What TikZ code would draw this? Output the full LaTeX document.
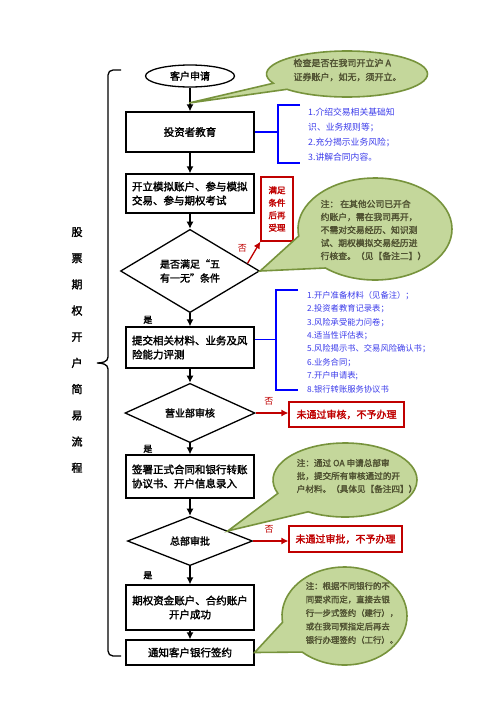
\documentclass[tikz,border=0pt]{standalone}
\usepackage{fontspec}
\setmainfont{Noto Sans CJK SC}[AutoFakeBold=2]
\usetikzlibrary{shapes.geometric}
\usetikzlibrary{shapes.callouts}
\usetikzlibrary{arrows.meta}
\usetikzlibrary{calc}

\definecolor{nored}{RGB}{192,0,0}
\definecolor{listblue}{RGB}{0,0,255}
\definecolor{listtext}{RGB}{60,60,235}
\definecolor{notefill}{RGB}{196,215,155}
\definecolor{noteline}{RGB}{119,147,60}
\definecolor{notetext}{RGB}{80,82,50}

\begin{document}
\begin{tikzpicture}[x=1pt,y=-1pt,
  stepbox/.style={draw,line width=1.3pt,minimum width=128pt,inner sep=0pt,font=\fontsize{10.5}{14}\selectfont\bfseries},
  judge/.style={draw,diamond,line width=1.3pt,inner sep=0pt,align=center,font=\fontsize{10}{14}\selectfont\bfseries},
  nobox/.style={draw=nored,text=nored,line width=1.2pt,inner sep=0pt,font=\fontsize{10}{12}\selectfont\bfseries},
  note/.style={ellipse callout,fill=notefill,draw=noteline,line width=1.6pt,inner sep=0pt},
  notetxt/.style={text=notetext,align=left,inner sep=0pt},
  bluelist/.style={text=listtext,align=left,anchor=west,inner sep=0pt},
  go/.style={-{Latex[length=7pt,width=7pt]},line width=1.3pt},
  nogo/.style={go,draw=nored},
  yes/.style={left=37pt,inner sep=0pt,font=\fontsize{9}{10}\selectfont\bfseries},
  nolbl/.style={text=nored,inner sep=0pt,font=\fontsize{9}{10}\selectfont}]

  \path[use as bounding box,fill=white] (0,0) rectangle (500,707);

  %% main column
  \node[ellipse,draw,line width=1.3pt,minimum width=89pt,minimum height=22pt,inner sep=0pt,font=\fontsize{10}{12}\selectfont\bfseries] (apply) at (190,76) {客户申请};
  \node[stepbox,minimum height=40pt] (edu) at (190,132) {投资者教育};
  \node[stepbox,minimum height=39pt,text width=116pt,align=left] (sim) at (190,193.5) {开立模拟账户、参与模拟\\交易、参与期权考试};
  \node[judge,minimum width=139pt,minimum height=67pt] (five) at (190,271) {是否满足“五\\有一无”条件};
  \node[stepbox,minimum height=41pt,text width=116pt,align=left] (submit) at (190,347.5) {提交相关材料、业务及风\\险能力评测};
  \node[judge,minimum width=130pt,minimum height=45pt] (shop) at (190,413) {营业部审核};
  \node[stepbox,minimum height=43pt,text width=116pt,align=left] (sign) at (190,476.5) {签署正式合同和银行转账\\协议书、开户信息录入};
  \node[judge,minimum width=125pt,minimum height=44pt] (hq) at (190,541) {总部审批};
  \node[stepbox,minimum height=45pt,align=center] (open) at (190,607.5) {期权资金账户、合约账户\\开户成功};
  \node[stepbox,minimum height=25pt] (notify) at (190,652.5) {通知客户银行签约};

  %% refusals
  \node[nobox,minimum width=32pt,minimum height=64pt,align=center,font=\fontsize{8.5}{12.5}\selectfont\bfseries] (meet) at (277,209) {满足\\条件\\后再\\受理};
  \node[nobox,minimum width=115pt,minimum height=25pt] (rej1) at (346.5,414.5) {未通过审核，不予办理};
  \node[nobox,minimum width=113pt,minimum height=26pt] (rej2) at (345.5,539) {未通过审批，不予办理};

  \draw[go] (apply) -- (edu);
  \draw[go] (edu) -- (sim);
  \draw[go] (sim) -- (five);
  \draw[go] (five) -- node[yes] {是} (submit);
  \draw[go] (submit) -- (shop);
  \draw[go] (shop) -- node[yes] {是} (sign);
  \draw[go] (sign) -- (hq);
  \draw[go] (hq) -- node[yes] {是} (open);
  \draw[go] (open) -- (notify);

  \draw[nogo] ($(five.east)!0.18!(five.north)$) -- node[nolbl,pos=0.7,left=9pt] {否} (meet.south west);
  \draw[nogo] (shop.east) -- node[nolbl,pos=0.4,above=7pt] {否} (shop.east -| rej1.west);
  \draw[nogo] (hq.east) -- node[nolbl,pos=0.45,above=7pt] {否} (hq.east -| rej2.west);

  %% blue lists
  \draw[listblue,line width=1.3pt] (edu.east) -- ++(24,0) (300,105) -| (278,163) -- (300,163);
  \node[bluelist,font=\fontsize{8.8}{15}\selectfont] (list1) at (308,134.5) {1.介绍交易相关基础知\\识、业务规则等；\\2.充分揭示业务风险；\\3.讲解合同内容。};
  \draw[listblue,line width=1.3pt] ([yshift=8pt]submit.east) -- ++(22,0) (298,290) -| (276,390) -- (298,390);
  \node[bluelist,font=\fontsize{8.3}{13.4}\selectfont] (list2) at (307,342) {1.开户准备材料（见备注）；\\2.投资者教育记录表；\\3.风险承受能力问卷；\\4.适当性评估表；\\5.风险揭示书、交易风险确认书；\\6.业务合同；\\7.开户申请表;\\8.银行转账服务协议书};

  %% green notes
  \coordinate (tip1) at (189,103);
  \node[note,minimum width=161pt,minimum height=46pt,callout pointer arc=18,callout absolute pointer={(tip1)}] (note1) at (347,74) {};
  \node[notetxt,font=\fontsize{9}{14}\selectfont\bfseries] (note1text) at (347.5,70) {检查是否在我司开立沪 A\\证券账户，如无，须开立。};
  \node[note,minimum width=154pt,minimum height=102pt,callout pointer arc=42,callout absolute pointer={(five.east)}] (note2) at (375,229) {};
  \node[notetxt,font=\fontsize{8.8}{13}\selectfont\bfseries] (note2text) at (373.5,230) {注： 在其他公司已开合\\约账户，需在我司再开，\\不需对交易经历、知识测\\试、期权模拟交易经历进\\行核查。（见【备注二】）};
  \coordinate (tip3) at ($(hq.east)!0.4!(hq.north)$);
  \node[note,minimum width=144pt,minimum height=74pt,callout pointer arc=38,callout absolute pointer={(tip3)}] (note3) at (345,480) {};
  \node[notetxt,font=\fontsize{8.6}{13}\selectfont\bfseries] (note3text) at (357,476) {注：通过 OA 申请总部审\\批，提交所有审核通过的开\\户材料。（具体见【备注四】）};
  \node[note,minimum width=125pt,minimum height=98pt,callout pointer arc=40,callout absolute pointer={(notify.east)}] (note4) at (344.5,616) {};
  \node[notetxt,font=\fontsize{8.4}{13.5}\selectfont\bfseries] (note4text) at (352,613) {注：根据不同银行的不\\同要求而定，直接去银\\行一步式签约（建行），\\或在我司预指定后再去\\银行办理签约（工行）。};

  %% side title and brace
  \node[align=center,inner sep=0pt,font=\fontsize{11}{26.2}\selectfont\bfseries] (title) at (77,350) {股\\票\\期\\权\\开\\户\\简\\易\\流\\程};
  \draw[line width=1.3pt] (121,70) -- (113,70) to[out=180,in=90] (108,75) -- (108,357) to[out=-90,in=0] (97,363) to[out=0,in=90] (108,369) -- (108,651) to[out=-90,in=180] (113,656) -- (121,656);
\end{tikzpicture}
\end{document}
